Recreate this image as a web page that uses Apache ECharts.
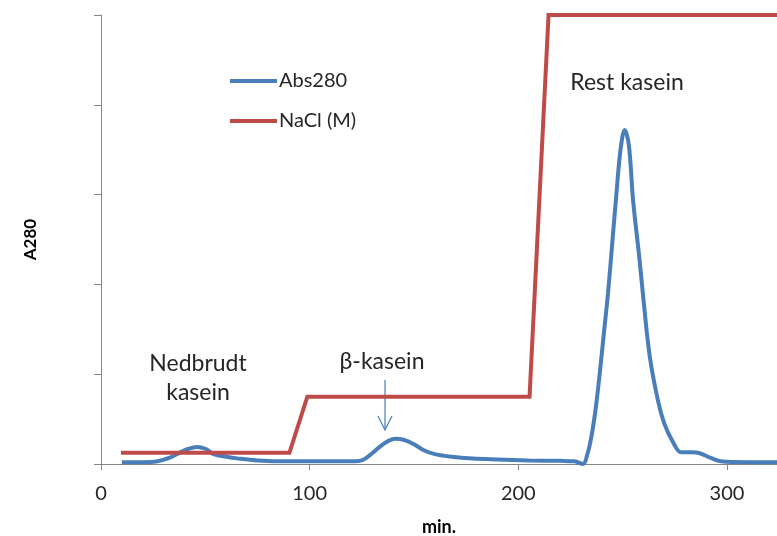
<!DOCTYPE html>
<html>
<head>
<meta charset="utf-8">
<title>Abs280 / NaCl</title>
<script src="https://cdn.jsdelivr.net/npm/echarts@6.0.0/dist/echarts.min.js"></script>
<style>
  html, body { margin: 0; padding: 0; background: #fff; }
  #chart { width: 777px; height: 536px; }
</style>
</head>
<body>
<div id="chart"></div>
<script>
// Abs280 trace (minutes, absorbance units on left axis 0..5)
var absTime = [10, 20, 27, 33, 38, 42, 46, 50, 54, 60, 66, 75, 90, 110, 122, 126, 130, 134, 138, 141,
  145, 150, 155, 160, 168, 178, 190, 205, 220, 227, 231, 233, 235, 237, 239, 241, 243, 245, 247, 249, 251,
  253, 255, 258, 260, 263, 267, 270, 274, 278, 283, 287, 292, 297, 310, 324];
var absValues = [0.02, 0.02, 0.03, 0.07, 0.13, 0.17, 0.19, 0.17, 0.11, 0.08, 0.06, 0.04, 0.03, 0.03, 0.03, 0.05, 0.12, 0.2, 0.26, 0.28,
  0.27, 0.22, 0.15, 0.11, 0.08, 0.06, 0.05, 0.04, 0.035, 0.03, 0.0, 0.1, 0.3, 0.6, 1.0, 1.45, 1.9, 2.45, 3.0, 3.5, 3.72,
  3.55, 2.94, 2.3, 1.83, 1.2, 0.7, 0.45, 0.25, 0.13, 0.13, 0.12, 0.07, 0.03, 0.02, 0.02];

// NaCl gradient (minutes, M on hidden right axis 0..1)
var naclTime = [9.6, 90.3, 98.9, 205.4, 214.5, 324];
var naclValues = [0.025, 0.025, 0.15, 0.15, 1.0, 1.0];

var seriesNames = ['Abs280', 'NaCl (M)'];

function pairs(xs, ys) {
  return xs.map(function (x, i) { return [x, ys[i]]; });
}

var chart = echarts.init(document.getElementById('chart'));
var font = 'Lato, "Open Sans", sans-serif';
var axisGray = '#868686';
var textColor = '#262626';

function note(text, x, y) {
  return {
    type: 'text', x: x, y: y,
    style: { text: text, font: '23px ' + font, fill: textColor, align: 'center', verticalAlign: 'middle' }
  };
}

var option = {
  animation: false,
  backgroundColor: '#fff',
  grid: { left: 101, right: 0, top: 15, bottom: 72, outerBoundsMode: 'none' },
  legend: {
    orient: 'vertical',
    left: 225,
    top: 66,
    icon: 'rect',
    itemWidth: 47,
    itemHeight: 4,
    itemGap: 20,
    data: seriesNames,
    textStyle: { fontFamily: font, fontSize: 20, color: textColor, padding: [0, 0, 0, -3] }
  },
  xAxis: {
    type: 'value',
    min: 0,
    max: 324,
    interval: 100,
    name: 'min.',
    nameLocation: 'middle',
    nameGap: 54,
    nameTextStyle: { fontFamily: font, fontSize: 18, fontWeight: 'bold', color: '#000' },
    axisLine: { onZero: false, lineStyle: { color: axisGray, width: 1 } },
    axisTick: { show: true, length: 6, lineStyle: { color: axisGray } },
    axisLabel: { fontFamily: font, fontSize: 20, color: textColor, margin: 20, showMaxLabel: false },
    splitLine: { show: false }
  },
  yAxis: [{
    type: 'value',
    min: 0,
    max: 5,
    interval: 1,
    name: 'A280',
    nameLocation: 'middle',
    nameGap: 62,
    nameTextStyle: { fontFamily: font, fontSize: 17, fontWeight: 'bold', color: '#000' },
    axisLine: { show: true, lineStyle: { color: axisGray, width: 1 } },
    axisTick: { show: true, length: 7, lineStyle: { color: axisGray } },
    axisLabel: { show: false },
    splitLine: { show: false }
  }, {
    type: 'value',
    min: 0,
    max: 1,
    show: false,
    splitLine: { show: false }
  }],
  series: [{
    name: seriesNames[0],
    type: 'line',
    yAxisIndex: 0,
    data: pairs(absTime, absValues),
    smooth: 0.35,
    symbol: 'none',
    z: 2,
    lineStyle: { color: '#4a7ebb', width: 4 },
    itemStyle: { color: '#4a7ebb' }
  }, {
    name: seriesNames[1],
    type: 'line',
    yAxisIndex: 1,
    data: pairs(naclTime, naclValues),
    symbol: 'none',
    z: 3,
    lineStyle: { color: '#be4b48', width: 4, join: 'miter' },
    itemStyle: { color: '#be4b48' }
  }],
  graphic: [
    note('Nedbrudt', 198, 364),
    note('kasein', 198, 393),
    note('β-kasein', 382, 362),
    note('Rest kasein', 627, 83),
    { type: 'line', shape: { x1: 385, y1: 380, x2: 385, y2: 430 }, style: { stroke: '#4a7ebb', lineWidth: 1.2 } },
    { type: 'polyline', shape: { points: [[378, 416], [385, 430], [392, 416]] }, style: { stroke: '#4a7ebb', lineWidth: 1.2, fill: null } }
  ]
};

chart.setOption(option);
</script>
</body>
</html>
